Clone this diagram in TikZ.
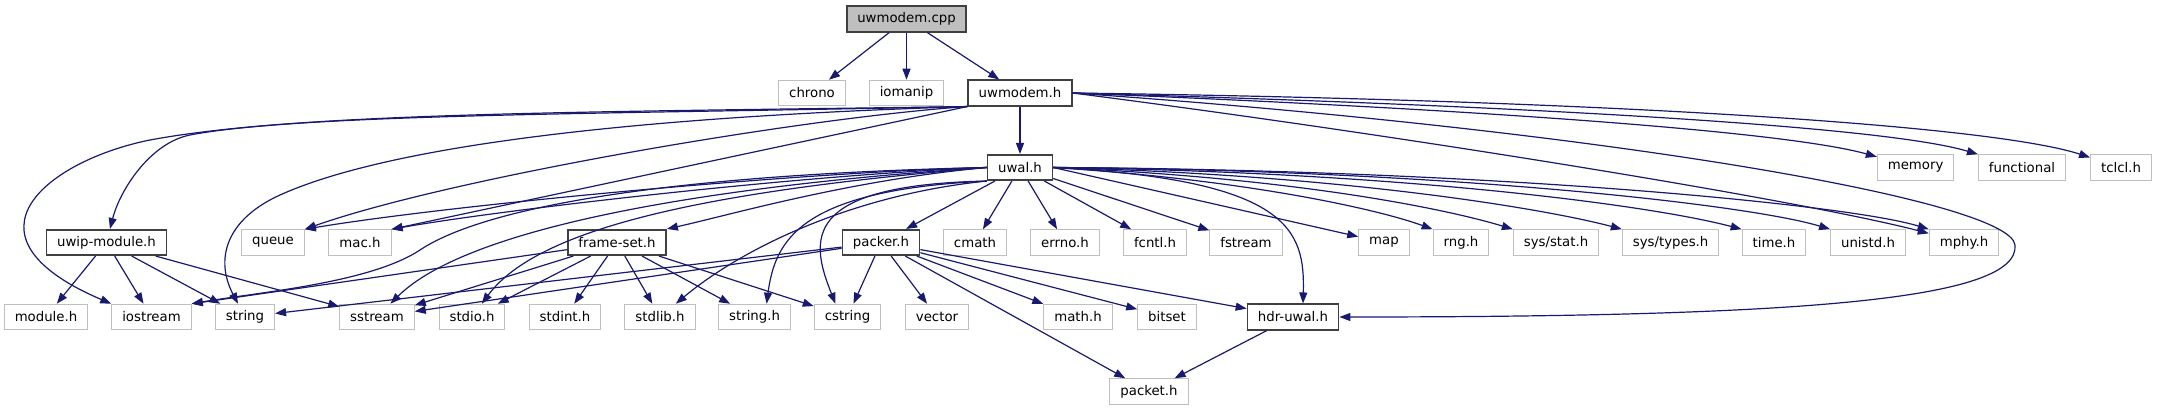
\documentclass[tikz,border=0pt]{standalone}
\usepackage{fontspec}
\setmainfont{DejaVu Sans}
\usepackage{tikz}
\usetikzlibrary{arrows.meta}
\definecolor{edgeblue}{HTML}{191970}
\definecolor{boxgray}{HTML}{BFBFBF}
\definecolor{boxdark}{HTML}{404040}

\begin{document}
\begin{tikzpicture}[x=1pt, y=-1pt, >={Triangle[length=11pt,width=8pt]},
    file/.style={rectangle, minimum height=25.5pt, inner xsep=10.5pt, inner ysep=0pt,
      fill=white, font=\fontsize{13.3pt}{16pt}\selectfont},
    sysfile/.style={file, draw=boxgray, line width=1pt},
    ownfile/.style={file, draw=boxdark, line width=1.6pt},
    mainfile/.style={ownfile, fill=boxgray},
    incl/.style={->, edgeblue, line width=1.2pt}]
  \useasboundingbox (0,0) rectangle (2157,411);

  % Archivo principal
  \node[mainfile] (cpp) at (906.5,19) {uwmodem.cpp};

  % Primer nivel
  \node[sysfile] (chrono) at (812,93) {chrono};
  \node[sysfile] (iomanip) at (906.5,93) {iomanip};
  \node[ownfile] (modemh) at (1020,93) {uwmodem.h};

  % Segundo nivel
  \node[ownfile] (uwalh) at (1020,167.5) {uwal.h};
  \node[sysfile] (memory) at (1915.6,167.5) {memory};
  \node[sysfile] (functional) at (2022,167.5) {functional};
  \node[sysfile] (tclcl) at (2121,167.5) {tclcl.h};

  % Tercer nivel
  \node[ownfile] (uwip) at (106.5,242.5) {uwip-module.h};
  \node[sysfile] (queue) at (273,242.5) {queue};
  \node[sysfile] (mach) at (360,242.5) {mac.h};
  \node[ownfile] (frameset) at (617,242.5) {frame-set.h};
  \node[ownfile] (packer) at (881,242.5) {packer.h};
  \node[sysfile] (cmath) at (975,242.5) {cmath};
  \node[sysfile] (errno) at (1065,242.5) {errno.h};
  \node[sysfile] (fcntl) at (1155,242.5) {fcntl.h};
  \node[sysfile] (fstream) at (1246,242.5) {fstream};
  \node[sysfile] (map) at (1384,242.5) {map};
  \node[sysfile] (rng) at (1461,242.5) {rng.h};
  \node[sysfile] (sysstat) at (1556,242.5) {sys/stat.h};
  \node[sysfile] (systypes) at (1670.6,242.5) {sys/types.h};
  \node[sysfile] (timeh) at (1774,242.5) {time.h};
  \node[sysfile] (unistd) at (1868,242.5) {unistd.h};
  \node[sysfile] (mphy) at (1964,242.5) {mphy.h};

  % Cuarto nivel
  \node[sysfile] (module) at (46,317) {module.h};
  \node[sysfile] (iostream) at (151.5,317) {iostream};
  \node[sysfile] (string) at (245,317) {string};
  \node[sysfile] (sstream) at (377,317) {sstream};
  \node[sysfile] (stdio) at (472,317) {stdio.h};
  \node[sysfile] (stdint) at (565,317) {stdint.h};
  \node[sysfile] (stdlib) at (660,317) {stdlib.h};
  \node[sysfile] (stringh) at (754.6,317) {string.h};
  \node[sysfile] (cstring) at (847.5,317) {cstring};
  \node[sysfile] (vector) at (937,317) {vector};
  \node[sysfile] (mathh) at (1078,317) {math.h};
  \node[sysfile] (bitset) at (1167,317) {bitset};
  \node[ownfile] (hdruwal) at (1293,317) {hdr-uwal.h};
  \node[sysfile] (packet) at (1149,391.5) {packet.h};

  % Inclusiones de uwmodem.cpp
  \draw[incl] (cpp) -- (chrono);
  \draw[incl] (cpp) -- (iomanip);
  \draw[incl] (cpp) -- (modemh);

  % Inclusiones de uwmodem.h
  \draw[incl] (modemh) -- (uwalh);
  \draw[incl] (modemh.east) .. controls (1450,108) and (1780,130) .. (memory);
  \draw[incl] (modemh.east) .. controls (1500,105) and (1880,125) .. (functional);
  \draw[incl] (modemh.east) .. controls (1600,100) and (1990,125) .. (tclcl);
  \draw[incl] (modemh.east) .. controls (1400,135) and (1800,200) .. (mphy);
  \draw[incl] (modemh.east) .. controls (1600,130) and (2010,200) .. (2015,245)
    .. controls (2020,300) and (1800,317) .. (hdruwal.east);
  \draw[incl] (modemh.south west) .. controls (800,118) and (450,178) .. (queue.north east);
  \draw[incl] (modemh.south west) -- (mach.north east);
  \draw[incl] (modemh.south west) .. controls (600,118) and (380,150) .. (280,195)
    .. controls (225,220) and (215,260) .. (string);
  \draw[incl] (modemh.south west) .. controls (600,112) and (300,112) .. (150,140)
    .. controls (50,160) and (-50,235) .. (iostream.north west);
  \draw[incl] (modemh.south west) .. controls (600,114) and (300,114) .. (190,135)
    .. controls (150,143) and (120,190) .. (uwip);

  % Inclusiones de uwal.h
  \draw[incl] (uwalh.west) .. controls (800,172) and (450,205) .. (queue.north east);
  \draw[incl] (uwalh.west) .. controls (800,175) and (500,210) .. (mach.north east);
  \draw[incl] (uwalh.west) .. controls (850,180) and (730,215) .. (frameset.north east);
  \draw[incl] (uwalh.west) .. controls (650,175) and (480,210) .. (420,250)
    .. controls (370,283) and (260,292) .. (iostream.north east);
  \draw[incl] (uwalh.west) .. controls (720,185) and (470,225) .. (sstream);
  \draw[incl] (uwalh.west) .. controls (720,190) and (540,225) .. (stdio);
  \draw[incl] (uwalh.south west) .. controls (850,195) and (740,250) .. (stdlib);
  \draw[incl] (uwalh.south west) .. controls (800,190) and (775,240) .. ([xshift=12pt]stringh.north);
  \draw[incl] (uwalh.south west) .. controls (800,185) and (810,240) .. ([xshift=-12pt]cstring.north);
  \draw[incl] (uwalh) -- (packer);
  \draw[incl] (uwalh) -- (cmath);
  \draw[incl] (uwalh) -- (errno);
  \draw[incl] (uwalh) -- (fcntl);
  \draw[incl] (uwalh) -- (fstream);
  \draw[incl] (uwalh.east) -- (map);
  \draw[incl] (uwalh.east) .. controls (1250,180) and (1380,210) .. (rng.north west);
  \draw[incl] (uwalh.east) .. controls (1300,178) and (1450,210) .. (sysstat.north west);
  \draw[incl] (uwalh.east) .. controls (1350,175) and (1550,210) .. (systypes.north west);
  \draw[incl] (uwalh.east) .. controls (1400,172) and (1650,205) .. (timeh.north west);
  \draw[incl] (uwalh.east) .. controls (1450,170) and (1750,205) .. (unistd.north west);
  \draw[incl] (uwalh.east) .. controls (1500,170) and (1850,205) .. (mphy.north west);
  \draw[incl] (uwalh.east) .. controls (1290,180) and (1305,230) .. ([xshift=10pt]hdruwal.north);

  % Inclusiones de uwip-module.h
  \draw[incl] (uwip) -- (module);
  \draw[incl] (uwip) -- (iostream);
  \draw[incl] (uwip) -- (string);
  \draw[incl] (uwip) -- (sstream);

  % Inclusiones de frame-set.h
  \draw[incl] (frameset) -- (iostream.north east);
  \draw[incl] (frameset) -- (sstream);
  \draw[incl] (frameset) -- (stdio);
  \draw[incl] (frameset) -- (stdint);
  \draw[incl] (frameset) -- (stdlib);
  \draw[incl] (frameset) -- (stringh);
  \draw[incl] (frameset) -- (cstring);

  % Inclusiones de packer.h
  \draw[incl] (packer) -- (string);
  \draw[incl] (packer) -- (sstream);
  \draw[incl] (packer) -- (cstring);
  \draw[incl] (packer) -- (vector);
  \draw[incl] (packer) -- (mathh);
  \draw[incl] (packer) -- (bitset);
  \draw[incl] (packer) -- (hdruwal);
  \draw[incl] (packer) -- (packet);

  % Inclusiones de hdr-uwal.h
  \draw[incl] (hdruwal) -- (packet);
\end{tikzpicture}
\end{document}
